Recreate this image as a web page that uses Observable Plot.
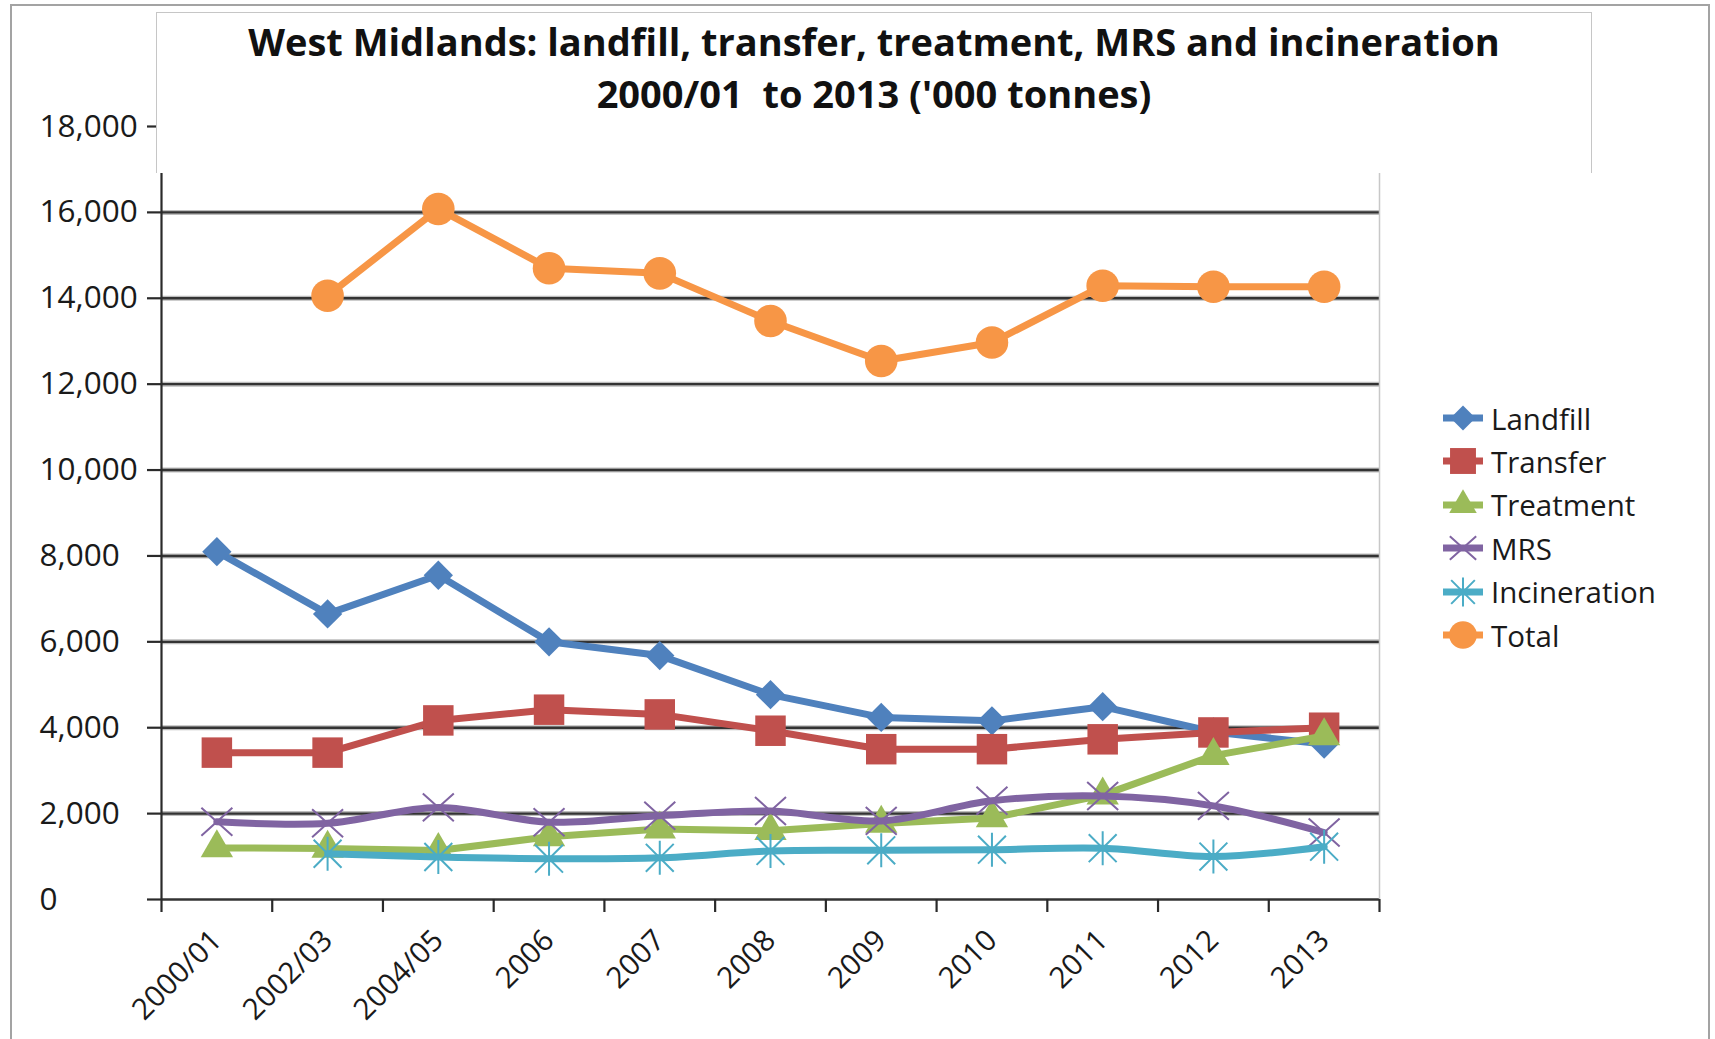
<!DOCTYPE html>
<html>
<head>
<meta charset="utf-8">
<script src="https://cdn.jsdelivr.net/npm/d3@7"></script>
<script src="https://cdn.jsdelivr.net/npm/@observablehq/plot@0.6"></script>
<style>
  html, body { margin: 0; padding: 0; background: #fff; }
  #wrap { position: relative; width: 1715px; height: 1039px; overflow: hidden; background: #fff; font-family: "Open Sans", sans-serif; color: #1a1a1a; }
  #frame { position: absolute; left: 10px; top: 4px; width: 1700px; height: 1100px; border: 2px solid #a3a3a3; box-sizing: border-box; }
  #chart { position: absolute; left: 0; top: 0; }
  #titlebox { position: absolute; left: 156px; top: 12px; width: 1436px; height: 161px; background: #fff; border: 1.5px solid #c6c6c6; border-bottom: none; box-sizing: border-box; }
  #title { position: absolute; left: 156px; width: 1436px; top: 15px; text-align: center; font-weight: 700; font-size: 38px; line-height: 52px; color: #111; white-space: pre; }
  .leg { position: absolute; left: 1443px; height: 44px; display: flex; align-items: center; font-size: 29.5px; color: #1a1a1a; }
  .leg svg { margin-right: 7px; }
</style>
</head>
<body>
<div id="wrap">
  <div id="frame"></div>
  <div id="chart"></div>
  <div id="titlebox"></div>
  <div id="title"></div>
  <div id="legend"></div>
</div>
<script>
// ---- data ----
const categories = ["2000/01", "2002/03", "2004/05", "2006", "2007", "2008", "2009", "2010", "2011", "2012", "2013"];
const landfill     = [8100, 6650, 7550, 6000, 5680, 4770, 4240, 4160, 4490, 3900, 3620];
const transfer     = [3420, 3420, 4170, 4420, 4310, 3930, 3500, 3500, 3730, 3890, 4000];
const treatment    = [1200, 1190, 1140, 1460, 1640, 1600, 1770, 1900, 2430, 3350, 3810];
const mrs          = [1810, 1775, 2145, 1800, 1950, 2060, 1830, 2300, 2410, 2180, 1560];
const incineration = [null, 1065, 990, 950, 970, 1130, 1145, 1160, 1195, 1000, 1230];
const total        = [null, 14060, 16080, 14700, 14580, 13470, 12540, 12970, 14290, 14270, 14270];
const seriesNames  = ["Landfill", "Transfer", "Treatment", "MRS", "Incineration", "Total"];
const seriesColors = ["#4F81BD", "#C0504D", "#9BBB59", "#8064A2", "#4BACC6", "#F79646"];
const yTicks = [0, 2000, 4000, 6000, 8000, 10000, 12000, 14000, 16000, 18000];
const titleLines = ["West Midlands: landfill, transfer, treatment, MRS and incineration", "2000/01  to 2013 ('000 tonnes)"];

// ---- custom Excel-like stroke markers ----
const xSym = { draw(ctx, size) { const r = Math.sqrt(size / Math.PI); const v = r * 0.9;
  ctx.moveTo(-r, -v); ctx.lineTo(r, v); ctx.moveTo(-r, v); ctx.lineTo(r, -v); } };
const starSym = { draw(ctx, size) { const r = Math.sqrt(size / Math.PI); const u = r * 0.82;
  ctx.moveTo(0, -r); ctx.lineTo(0, r); ctx.moveTo(-u, -u); ctx.lineTo(u, u); ctx.moveTo(-u, u); ctx.lineTo(u, -u); } };

const seriesValues = [landfill, transfer, treatment, mrs, incineration, total];
const markerSpec = [
  { symbol: "diamond2", r: 13.2, filled: true },
  { symbol: "square", r: 17.2, filled: true },
  { symbol: "triangle", r: 12, filled: true },
  { symbol: xSym, r: 15.5, filled: false },
  { symbol: starSym, r: 17, filled: false },
  { symbol: "circle", r: 16.3, filled: true }
];
const smooth = [false, false, false, true, true, false];

const rows = seriesNames.flatMap((name, s) =>
  categories.map((cat, i) => ({ series: name, cat, i, value: seriesValues[s][i] })));

const fmt = d3.format(",");

const seriesMarks = seriesNames.flatMap((name, s) => {
  const data = rows.filter(d => d.series === name);
  const m = markerSpec[s];
  return [
    Plot.line(data, { x: d => d.i + 0.5, y: "value", stroke: seriesColors[s], strokeWidth: 7,
      curve: smooth[s] ? "catmull-rom" : "linear" }),
    Plot.dot(data.filter(d => d.value != null), { x: d => d.i + 0.5, y: "value", symbol: m.symbol, r: m.r,
      fill: m.filled ? seriesColors[s] : "none", stroke: m.filled ? "none" : seriesColors[s], strokeWidth: 2 })
  ];
});

const chart = Plot.plot({
  width: 1715, height: 1039,
  marginLeft: 161, marginRight: 336, marginTop: 126, marginBottom: 140,
  style: { fontFamily: '"Open Sans", sans-serif', fontSize: "31px", color: "#1a1a1a", background: "transparent" },
  x: { domain: [0, categories.length], axis: null, label: null },
  y: { domain: [0, 18000], axis: null, label: null },
  marks: [
    Plot.ruleY(yTicks.filter(d => d > 0), { stroke: "#bdbdbd", strokeWidth: 5 }),
    Plot.ruleY(yTicks, { stroke: "#333", strokeWidth: 2.4 }),
    Plot.ruleX([categories.length], { y1: 0, y2: 18000, stroke: "#c8c8c8", strokeWidth: 1.5 }),
    Plot.ruleX([0], { y1: 0, y2: 18000, stroke: "#2a2a2a", strokeWidth: 2.2 }),
    Plot.axisY({ ticks: yTicks, tickSize: 14, tickFormat: () => "", stroke: "#2a2a2a", strokeWidth: 2.2 }),
    Plot.text(yTicks, { y: d => d, text: d => fmt(d), frameAnchor: "left", textAnchor: "start", dx: -122, fontSize: 31.5, fill: "#1a1a1a" }),
    Plot.axisX({ ticks: d3.range(categories.length + 1), tickSize: 13, tickFormat: () => "", stroke: "#2a2a2a", strokeWidth: 2.2 }),
    Plot.axisX({ ticks: categories.map((c, i) => i + 0.5), tickSize: 0, tickPadding: 36, tickRotate: -45,
      tickFormat: d => categories[Math.floor(d)], fontSize: 29.5, fill: "#1a1a1a" }),
    ...seriesMarks
  ]
});
document.getElementById("chart").appendChild(chart);

// ---- title ----
document.getElementById("title").textContent = titleLines.join("\n");

// ---- legend ----
const legend = document.getElementById("legend");
seriesNames.forEach((name, s) => {
  const row = document.createElement("div");
  row.className = "leg";
  row.style.top = (396 + s * 43.4) + "px";
  const svg = d3.create("svg").attr("width", 41).attr("height", 40);
  svg.append("line").attr("x1", 0).attr("x2", 40).attr("y1", 20).attr("y2", 20)
    .attr("stroke", seriesColors[s]).attr("stroke-width", 7);
  const m = markerSpec[s];
  const r = m.r * 0.85;
  const type = typeof m.symbol === "string"
    ? { diamond2: d3.symbolDiamond2, square: d3.symbolSquare, triangle: d3.symbolTriangle, circle: d3.symbolCircle }[m.symbol]
    : m.symbol;
  svg.append("path").attr("transform", "translate(20,20)")
    .attr("d", d3.symbol(type, r * r * Math.PI)())
    .attr("fill", m.filled ? seriesColors[s] : "none")
    .attr("stroke", m.filled ? "none" : seriesColors[s]).attr("stroke-width", 2);
  row.appendChild(svg.node());
  const span = document.createElement("span");
  span.textContent = name;
  row.appendChild(span);
  legend.appendChild(row);
});
</script>
</body>
</html>
